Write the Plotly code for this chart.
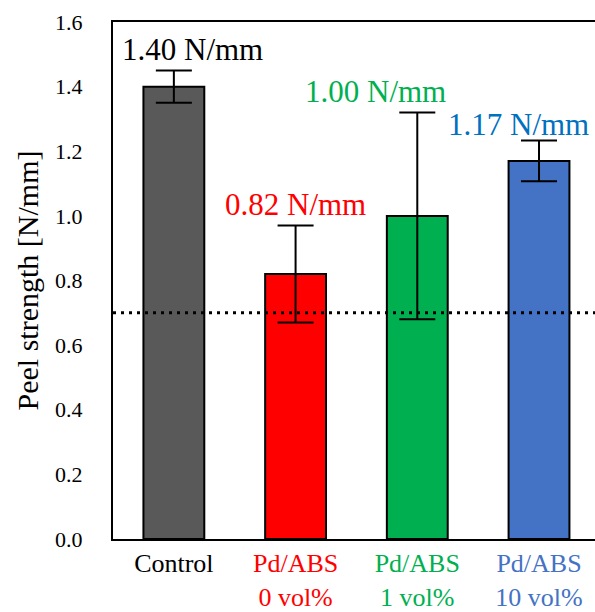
import plotly.graph_objects as go

categories = ["Control", "Pd/ABS 0 vol%", "Pd/ABS 1 vol%", "Pd/ABS 10 vol%"]
values = [1.40, 0.82, 1.00, 1.17]
errors = [0.05, 0.15, 0.32, 0.063]
bar_colors = ["#595959", "#FF0000", "#00B050", "#4472C4"]
tick_colors = ["#000000", "#FF0000", "#00B050", "#4472C4"]
tick_line1 = ["Control", "Pd/ABS", "Pd/ABS", "Pd/ABS"]
tick_line2 = ["", "0 vol%", "1 vol%", "10 vol%"]
value_labels = ["1.40 N/mm", "0.82 N/mm", "1.00 N/mm", "1.17 N/mm"]
label_colors = ["#000000", "#FF0000", "#00B050", "#0070C0"]
label_x = [0.15, 1.0, 1.654, 2.83]
label_y = [1.514, 1.034, 1.384, 1.282]
threshold = 0.7
y_ticks = [0.0, 0.2, 0.4, 0.6, 0.8, 1.0, 1.2, 1.4, 1.6]

FONT = "Liberation Serif"

x_idx = list(range(len(categories)))
ticktext = []
for l1, l2, c in zip(tick_line1, tick_line2, tick_colors):
    t = f'<span style="color:{c}">{l1}</span>'
    if l2:
        t += f'<br><span style="color:{c}">{l2}</span>'
    ticktext.append(t)

fig = go.Figure()
fig.add_trace(go.Bar(
    x=x_idx, y=values,
    marker=dict(color=bar_colors, line=dict(color="black", width=2)),
    error_y=dict(type="data", array=errors, visible=True, color="black",
                 thickness=2, width=18),
    width=0.5,
))

fig.add_hline(y=threshold, line=dict(color="black", width=3, dash="3px,5px"))

for x, y, t, c in zip(label_x, label_y, value_labels, label_colors):
    fig.add_annotation(x=x, y=y, xref="x", yref="y", text=t, showarrow=False,
                       font=dict(family=FONT, size=31, color=c),
                       xanchor="center", yanchor="middle")

fig.update_layout(
    width=595, height=612,
    margin=dict(l=113, r=0, t=22, b=73),
    plot_bgcolor="white", paper_bgcolor="white",
    showlegend=False,
    font=dict(family=FONT, color="black"),
    xaxis=dict(
        range=[-0.5, 3.46], tickvals=x_idx, ticktext=ticktext,
        tickfont=dict(family=FONT, size=26, color="black"),
        showline=True, linecolor="black", linewidth=2, mirror=True,
        showgrid=False, zeroline=False, ticks="", automargin=False,
    ),
    yaxis=dict(
        range=[0, 1.6], tickvals=y_ticks,
        ticktext=[f"{v:.1f}" for v in y_ticks],
        tickfont=dict(family=FONT, size=22, color="black"),
        showline=True, linecolor="black", linewidth=2,
        showgrid=False, zeroline=False, ticks="", automargin=False,
        ticklabelstandoff=24,
        title=dict(text="Peel strength [N/mm]",
                   font=dict(family=FONT, size=30), standoff=8),
    ),
)

fig.write_html(
    "out.html",
    config={"displayModeBar": False},
    post_script="document.body.style.margin='0';document.body.style.overflow='hidden';",
)
